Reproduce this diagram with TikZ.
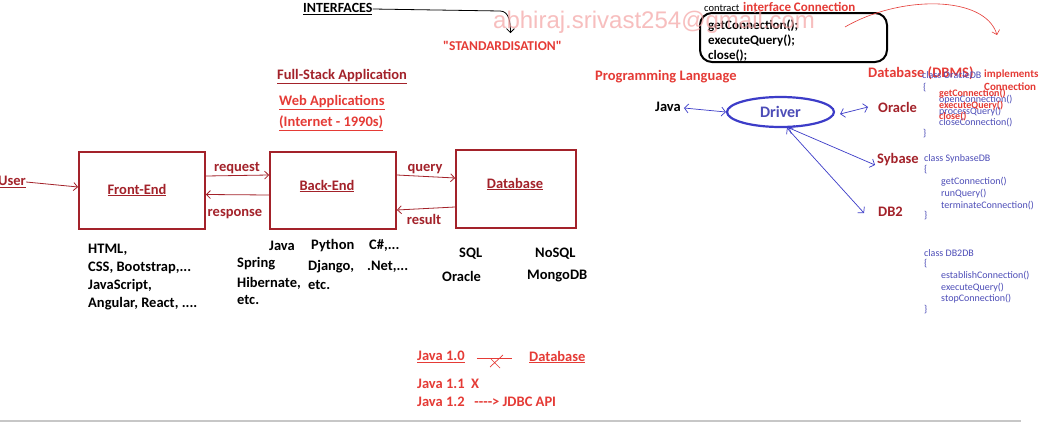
\documentclass[tikz,border=0pt]{standalone}
\usepackage{fontspec}
\setmainfont{Carlito}
\newfontfamily\wmfont{Liberation Sans}
\usetikzlibrary{arrows.meta,shapes.geometric,calc}
\definecolor{dred}{HTML}{A3222A}
\definecolor{tred}{HTML}{E53B36}
\definecolor{dblue}{HTML}{3C3CC8}
\definecolor{cblue}{HTML}{4D4DB8}
\definecolor{wpink}{HTML}{F4A3A3}
\newcommand\myBig{\bfseries\fontsize{14.5}{17}\selectfont}
\newcommand\myMid{\bfseries\fontsize{13}{15}\selectfont}
\newcommand\myCode{\fontsize{10}{12}\selectfont}
\begin{document}
\begin{tikzpicture}[x=1pt,y=-1pt,
  t/.style={inner sep=0pt, anchor=west, font=\myBig},
  c/.style={inner sep=0pt, anchor=center, font=\myBig},
  code/.style={inner sep=0pt, anchor=west, font=\myCode, text=cblue},
  rcode/.style={inner sep=0pt, anchor=west, font=\myCode\bfseries, text=tred},
  box/.style={draw=dred, line width=1.8pt, inner sep=0pt},
  arr/.style={draw=dred, line width=0.8pt, -{Straight Barb[length=4pt,width=8pt]}},
  barbs/.style={draw=dblue, line width=0.7pt, {Straight Barb[length=4pt,width=9pt]}-{Straight Barb[length=4pt,width=9pt]}}
]
\useasboundingbox (0,0) rectangle (1047,423);
\fill[white] (0,0) rectangle (1047,423);

% ---------- top ----------
\node[t,font=\bfseries\fontsize{14}{16}\selectfont] (interf) at (303,9) {\underline{INTERFACES}};
\node[t,text=tred,font=\bfseries\fontsize{13.5}{16}\selectfont] (stand) at (443,46) {\textquotedbl STANDARDISATION\textquotedbl};
\draw[line width=0.8pt,-{Straight Barb[length=4pt,width=8pt]}] (interf.east) -- (500,11) to[out=0,in=90] ([xshift=8pt,yshift=8pt]stand.north);

\node[t,font=\fontsize{10.5}{12}\selectfont] (contract) at (704,8) {contract};
\node[t,text=tred,font=\myMid] (ifc) at (743,7) {interface Connection};
\node[draw,line width=2pt,rounded corners=12pt,minimum width=187,minimum height=49,inner sep=0pt] (ibox) at (793.5,37.5) {};
\node[t,font=\myMid] (m1) at (708,26) {getConnection();};
\node[t,font=\myMid] (m2) at (708,41) {executeQuery();};
\node[t,font=\myMid] (m3) at (708,56) {close();};
\coordinate (ra) at (845,27);
\coordinate (rb) at (997,35);
\draw[tred,line width=0.6pt,-{Straight Barb[length=4pt,width=8pt]}] (ra) .. controls (900,-5) and (985,-5) .. (rb);

% ---------- full stack ----------
\node[t,text=dred] (fsa) at (277,77) {\underline{Full-Stack Application}};
\node[t,text=tred] (webapp) at (279,103) {\underline{Web Applications}};
\node[t,text=tred] (inet) at (279,123) {\underline{(Internet - 1990s)}};

\node[box,minimum width=126,minimum height=77] (fe) at (142,190.5) {};
\node[box,minimum width=126,minimum height=77] (be) at (333,190.5) {};
\node[box,minimum width=120,minimum height=78] (db) at (516,189) {};
\node[c,text=dred] (fel) at (137,190) {\underline{Front-End}};
\node[c,text=dred] (bel) at (327,186) {\underline{Back-End}};
\node[c,text=dred] (dbl) at (515,184) {\underline{Database}};

\node[t,text=dred] (user) at (-2,182) {\underline{User}};
\draw[arr] (user.east) -- ([yshift=3.5pt]fe.west);
\draw[arr] ([yshift=14.5pt]fe.east) -- ([yshift=15.5pt]be.west);
\draw[arr] ([yshift=-4.5pt]be.west) -- ([yshift=-4pt]fe.east);
\draw[arr] ([yshift=15.5pt]be.east) -- ([yshift=11pt]db.west);
\draw[arr] ([yshift=-18pt]db.west) -- ([yshift=-19.5pt]be.east);
\node[c,text=dred] (lreq) at (237,168) {request};
\node[c,text=dred] (lresp) at (235,214) {response};
\node[c,text=dred] (lq) at (425,169) {query};
\node[c,text=dred] (lres) at (424,219) {result};

% tech lists
\node[t] (h1) at (88,250) {HTML,};
\node[t] (h2) at (88,268) {CSS, Bootstrap,...};
\node[t] (h3) at (88,286) {JavaScript,};
\node[t] (h4) at (88,304) {Angular, React, ....};
\node[t] (b1) at (269,246) {Java};
\node[t] (b2) at (311,246) {Python};
\node[t] (b3) at (369,246) {C\#,...};
\node[t] (b4) at (237,264) {Spring};
\node[t] (b5) at (308,267) {Django,};
\node[t] (b6) at (367,267) {.Net,...};
\node[t] (b7) at (237,283) {Hibernate,};
\node[t] (b8) at (308,285) {etc.};
\node[t] (b9) at (237,300) {etc.};
\node[t] (d1) at (459,254) {SQL};
\node[t] (d2) at (535,254) {NoSQL};
\node[t] (d3) at (442,276) {Oracle};
\node[t] (d4) at (527,276) {MongoDB};

% ---------- driver ----------
\node[t,text=tred] (pl) at (595,77) {Programming Language};
\node[t] (java) at (655,107) {Java};
\node[ellipse,draw=dblue,line width=2.2pt,minimum width=107,minimum height=30,inner sep=0pt,
  text=cblue,font=\bfseries\fontsize{16}{18}\selectfont] (driver) at (780.5,112) {Driver};
\node[t,text=tred] (dbms) at (868,73) {Database (DBMS)};
\node[t,text=dred] (oracle) at (878,107) {Oracle};
\node[t,text=dred] (sybase) at (877,160) {Sybase};
\node[t,text=dred] (db2) at (878,212) {DB2};
\draw[barbs] ([xshift=3pt,yshift=-1pt]java.east) -- (driver.west);
\draw[barbs] ([xshift=5pt,yshift=-2pt]driver.east) -- ([xshift=-10pt]oracle.west);
\draw[barbs] (driver.-62) -- ([xshift=-2pt,yshift=-5pt]sybase.west);
\draw[barbs] (driver.-68) -- ([xshift=-14pt,yshift=-1pt]db2.west);

% Oracle class (overlapping)
\node[code] (oc) at (922,75) {class OracleDB};
\node[t,text=tred,font=\bfseries\fontsize{11}{13}\selectfont] (impl) at (984,75) {implements};
\node[t,text=tred,font=\bfseries\fontsize{11}{13}\selectfont] (implc) at (984,87) {Connection};
\node[code] (ob1) at (923,88) {\{};
\node[code] (o2) at (939,100) {openConnection()};
\node[code] (o4) at (939,112) {processQuery()};
\node[code] (o6) at (939,123) {closeConnection()};
\node[rcode] (o1) at (939,94) {getConnection()};
\node[rcode] (o3) at (939,106) {executeQuery()};
\node[rcode] (o5) at (939,117) {close()};
\node[code] (ob2) at (923,134) {\}};

% Sybase class
\node[code] (sc) at (924,159) {class SynbaseDB};
\node[code] (sb1) at (924,170) {\{};
\node[code] (s1) at (941,182) {getConnection()};
\node[code] (s2) at (941,194) {runQuery()};
\node[code] (s3) at (941,206) {terminateConnection()};
\node[code] (sb2) at (924,216) {\}};

% DB2 class
\node[code] (dc) at (924,253) {class DB2DB};
\node[code] (db1) at (924,264) {\{};
\node[code] (e1) at (941,276) {establishConnection()};
\node[code] (e2) at (941,288) {executeQuery()};
\node[code] (e3) at (941,299) {stopConnection()};
\node[code] (db2b) at (924,310) {\}};

% ---------- bottom ----------
\node[t,text=tred] (j10) at (417,357) {\underline{Java 1.0}};
\node[t,text=tred] (jdb) at (529,357) {\underline{Database}};
\draw[tred,line width=0.7pt] ([xshift=12pt,yshift=-1pt]j10.east) -- ([xshift=-17pt,yshift=-1pt]jdb.west);
\draw[tred,line width=0.7pt] (490,367) -- (503,355) (491,359) -- (500,368);
\node[t,text=tred] (j11) at (417,384) {Java 1.1~~X};
\node[t,text=tred] (j12) at (417,402) {Java 1.2~~~-{}-{}-{}-> JDBC API};

\draw[black!22,line width=2pt] (0,421) -- (1021,421);

% watermark
\node[inner sep=0pt,anchor=west,text=wpink,opacity=0.7,font=\wmfont\fontsize{24}{26}\selectfont] (wm) at (493,22) {abhiraj.srivast254@gmail.com};
\end{tikzpicture}
\end{document}
